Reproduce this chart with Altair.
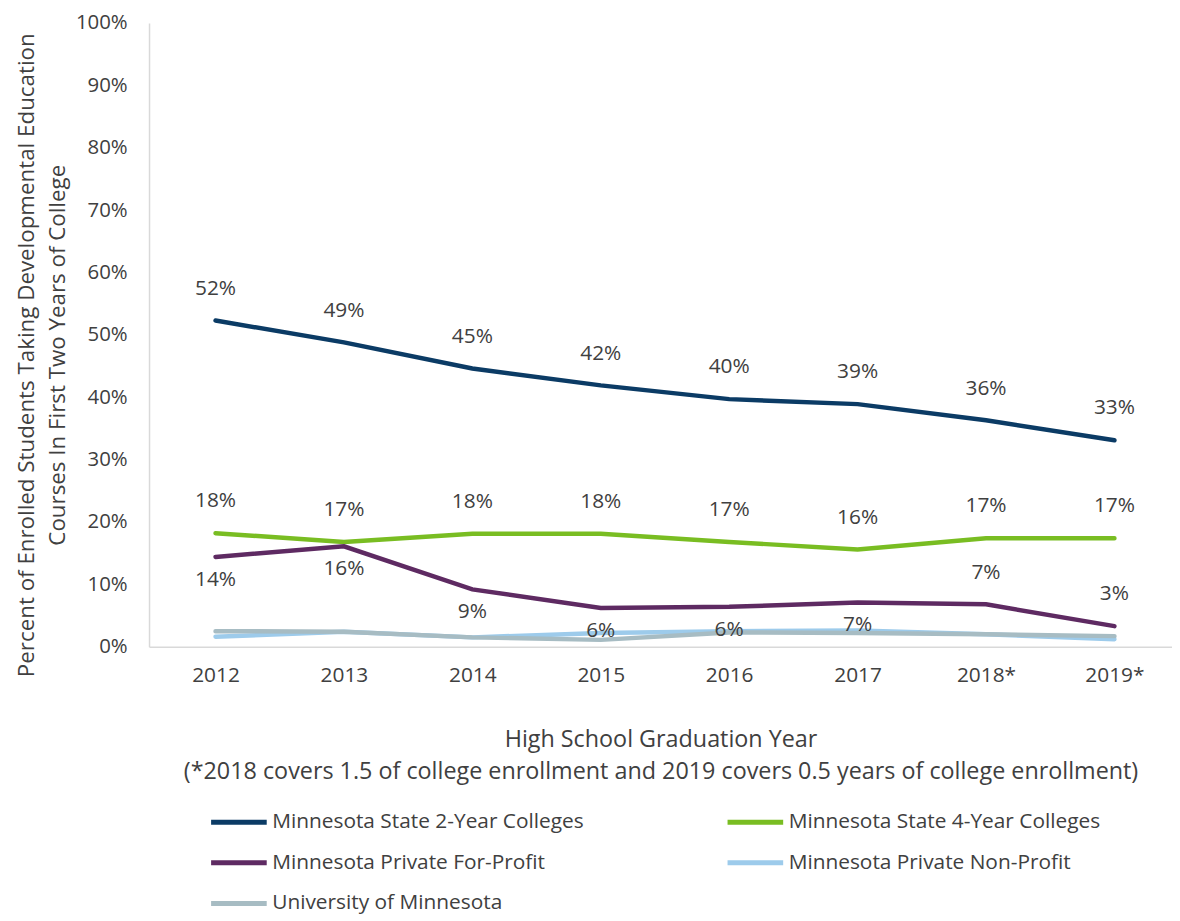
import altair as alt
import pandas as pd

years = ["2012", "2013", "2014", "2015", "2016", "2017", "2018*", "2019*"]
series = [
    "Minnesota State 2-Year Colleges",
    "Minnesota State 4-Year Colleges",
    "Minnesota Private For-Profit",
    "Minnesota Private Non-Profit",
    "University of Minnesota",
]
colors = ["#0b3b65", "#79bd22", "#5e2a62", "#9dcbeb", "#a7bcc3"]

two_year = [0.523, 0.488, 0.446, 0.419, 0.397, 0.389, 0.363, 0.331]
four_year = [0.182, 0.168, 0.181, 0.181, 0.168, 0.156, 0.174, 0.174]
for_profit = [0.144, 0.161, 0.092, 0.062, 0.064, 0.071, 0.068, 0.033]
non_profit = [0.016, 0.024, 0.015, 0.022, 0.025, 0.026, 0.020, 0.012]
umn = [0.025, 0.024, 0.015, 0.011, 0.023, 0.022, 0.020, 0.017]

labelled = series[:3]
below_years = ["2012", "2013", "2014", "2015", "2016", "2017"]

rows = []
for s, vals in zip(series, [two_year, four_year, for_profit, non_profit, umn]):
    for y, v in zip(years, vals):
        rows.append({"year": y, "series": s, "value": v, "order": series.index(s)})
df = pd.DataFrame(rows)

FONT = "Open Sans"
TXT = "#404040"

x = alt.X(
    "year:N",
    sort=years,
    scale=alt.Scale(type="point", padding=0.483, align=0.536),
    axis=alt.Axis(
        title=["High School Graduation Year",
               "(*2018 covers 1.5 of college enrollment and 2019 covers 0.5 years of college enrollment)"],
        labelAngle=0,
        labelFontSize=21,
        labelColor=TXT,
        labelPadding=18,
        ticks=False,
        domainColor="#d9d9d9",
        domainWidth=1.5,
        titleFontSize=23.5,
        titleFontWeight="normal",
        titleColor=TXT,
        titleLineHeight=33,
        titlePadding=42,
        grid=False,
    ),
)
y = alt.Y(
    "value:Q",
    scale=alt.Scale(domain=[0, 1], nice=False),
    axis=alt.Axis(
        format=".0%",
        values=[i / 10 for i in range(11)],
        labelFontSize=20.5,
        labelColor=TXT,
        labelPadding=22,
        ticks=False,
        domainColor="#d9d9d9",
        domainWidth=1.5,
        grid=False,
        title=["Percent of Enrolled Students Taking Developmental Education",
               "Courses In First Two Years of College"],
        titleFontSize=22.5,
        titleFontWeight="normal",
        titleColor=TXT,
        titleLineHeight=31,
        titleAngle=-90,
        titleAlign="center",
        titleBaseline="middle",
        titleX=-123,
        titleY=334,
    ),
)

color = alt.Color(
    "series:N",
    sort=series,
    scale=alt.Scale(domain=series, range=colors),
    legend=alt.Legend(
        title=None,
        orient="none",
        legendX=60,
        legendY=774,
        columns=2,
        direction="horizontal",
        symbolType="stroke",
        symbolSize=3136,
        symbolStrokeWidth=5,
        labelFontSize=21,
        labelColor=TXT,
        labelOffset=3,
        labelLimit=0,
        columnPadding=134,
        rowPadding=-14,
    ),
)

lines = alt.Chart(df).mark_line(strokeWidth=4.5, strokeCap="round").encode(
    x=x, y=y, color=color, order=alt.Order("order:Q")
)

label_base = alt.Chart(df).transform_filter(
    alt.FieldOneOfPredicate(field="series", oneOf=labelled)
)
cond = f"datum.series == '{series[2]}' && indexof({below_years}, datum.year) >= 0"
above = label_base.transform_filter(f"!({cond})").mark_text(
    fontSize=21, color=TXT, font=FONT, dy=-32
).encode(x=alt.X("year:N", sort=years), y="value:Q", text=alt.Text("value:Q", format=".0%"))
below = label_base.transform_filter(cond).mark_text(
    fontSize=21, color=TXT, font=FONT, dy=23
).encode(x=alt.X("year:N", sort=years), y="value:Q", text=alt.Text("value:Q", format=".0%"))

chart = (
    alt.layer(lines, above, below)
    .properties(
        width=1030,
        height=628,
        autosize=alt.AutoSizeParams(type="none"),
        padding={"left": 142, "top": 12, "right": 0, "bottom": 271},
    )
    .configure(font=FONT)
    .configure_view(stroke=None)
)

chart.save("out.html", embed_options={"renderer": "svg", "actions": False})
